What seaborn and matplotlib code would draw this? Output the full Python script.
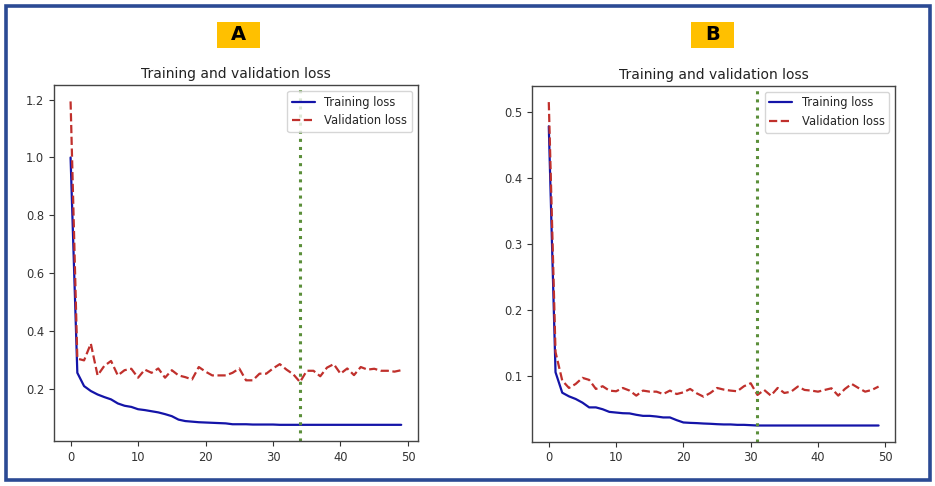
import numpy as np
import pandas as pd
import matplotlib.pyplot as plt
import matplotlib.patches as mpatches
import seaborn as sns

# values
epochs = list(range(50))

train_a = [1.0, 0.255, 0.209, 0.192, 0.18, 0.171, 0.163, 0.149, 0.141, 0.137,
           0.129, 0.126, 0.122, 0.118, 0.112, 0.105, 0.093, 0.088, 0.086, 0.084,
           0.083, 0.082, 0.081, 0.080, 0.077, 0.077, 0.077, 0.076, 0.076, 0.076,
           0.076, 0.075, 0.075, 0.075, 0.075, 0.075, 0.075, 0.075, 0.075, 0.075,
           0.075, 0.075, 0.075, 0.075, 0.075, 0.075, 0.075, 0.075, 0.075, 0.075]
val_a = [1.194, 0.304, 0.298, 0.356, 0.246, 0.279, 0.296, 0.246, 0.264, 0.269,
         0.238, 0.266, 0.255, 0.27, 0.238, 0.264, 0.246, 0.24, 0.232, 0.275,
         0.259, 0.246, 0.246, 0.246, 0.255, 0.27, 0.229, 0.229, 0.252, 0.252,
         0.27, 0.285, 0.266, 0.25, 0.223, 0.262, 0.262, 0.243, 0.273, 0.285,
         0.252, 0.27, 0.247, 0.275, 0.266, 0.269, 0.262, 0.262, 0.259, 0.264]
best_a = 34

train_b = [0.478, 0.106, 0.075, 0.0695, 0.0655, 0.060, 0.0528, 0.0528, 0.050, 0.046,
           0.045, 0.044, 0.0437, 0.0416, 0.040, 0.040, 0.039, 0.0376, 0.0376, 0.0335,
           0.030, 0.0294, 0.029, 0.0284, 0.028, 0.0274, 0.027, 0.027, 0.0264, 0.0264,
           0.0259, 0.0254, 0.0254, 0.0254, 0.0254, 0.0254, 0.0254, 0.0254, 0.0254, 0.0254,
           0.0254, 0.0254, 0.0254, 0.0254, 0.0254, 0.0254, 0.0254, 0.0254, 0.0254, 0.0254]
val_b = [0.5146, 0.1365, 0.0934, 0.0822, 0.0883, 0.0975, 0.0944, 0.0807, 0.0848, 0.0782,
         0.0772, 0.0822, 0.0782, 0.0706, 0.0782, 0.0766, 0.0766, 0.073, 0.0782, 0.073,
         0.0756, 0.0807, 0.074, 0.069, 0.0746, 0.0822, 0.0797, 0.0782, 0.0772, 0.0848,
         0.0893, 0.0716, 0.0792, 0.0706, 0.0822, 0.0746, 0.0766, 0.0843, 0.0792, 0.0782,
         0.0766, 0.0792, 0.0817, 0.0706, 0.0807, 0.0883, 0.0822, 0.0766, 0.0792, 0.0843]
best_b = 31

panel_labels = ['A', 'B']

sns.set_theme(style="ticks")
plt.rcParams['font.family'] = ['DejaVu Sans']

fig = plt.figure(figsize=(9.35, 4.86), dpi=100)
fig.patch.set_facecolor('white')

# blue frame round the whole picture
fig.patches.append(mpatches.Rectangle((5.5 / 935, 6.5 / 486), 924 / 935, 473 / 486,
                                      transform=fig.transFigure, fill=False,
                                      edgecolor='#2b4a94', linewidth=2.6))

ax_a = fig.add_axes([0.0578, 0.0926, 0.389, 0.732])
ax_b = fig.add_axes([0.5693, 0.0912, 0.388, 0.732])

panels = [(ax_a, train_a, val_a, best_a), (ax_b, train_b, val_b, best_b)]

for ax, tr, va, best in panels:
    df = pd.DataFrame({'epoch': epochs, 'train': tr, 'val': va})
    sns.lineplot(data=df, x='epoch', y='train', ax=ax, color='#1414a8',
                 linewidth=1.6, label='Training loss')
    sns.lineplot(data=df, x='epoch', y='val', ax=ax, color='#c0302c',
                 linewidth=1.6, linestyle='--', label='Validation loss')
    ax.axvline(best, color='#5b8f3a', linestyle=':', linewidth=2.2)
    ax.set_title('Training and validation loss', fontsize=10, color='#222222', pad=5)
    ax.set_xlabel('')
    ax.set_ylabel('')
    ax.set_xticks([0, 10, 20, 30, 40, 50])
    ax.tick_params(labelsize=8.3, length=3.5, width=0.8, colors='#333333')
    for s in ax.spines.values():
        s.set_color('#444444')
        s.set_linewidth(1.0)
    ax.legend(loc='upper right', fontsize=8.3, frameon=True, fancybox=True,
              edgecolor='#cccccc', handlelength=2.0, borderpad=0.4)

ax_b.set_yticks([0.1, 0.2, 0.3, 0.4, 0.5])

# yellow label boxes above the panels
for lab, x0 in zip(panel_labels, [217, 691]):
    fig.patches.append(mpatches.Rectangle((x0 / 935, (486 - 48) / 486), 43 / 935, 26 / 486,
                                          transform=fig.transFigure, facecolor='#ffc000',
                                          edgecolor='none'))
    fig.text((x0 + 21.5) / 935, 1 - 35 / 486, lab, ha='center', va='center',
             fontsize=14, fontweight='bold', color='black')

fig.savefig('out.png', dpi=100)
